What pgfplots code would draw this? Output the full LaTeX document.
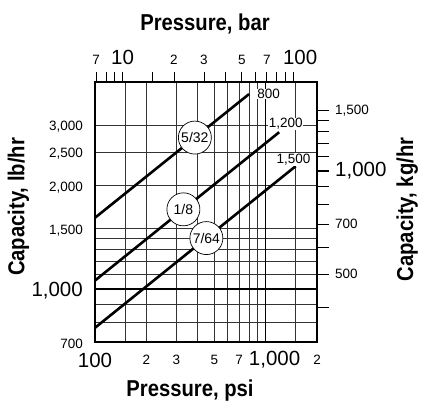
\documentclass[border=0pt]{standalone}
\usepackage{fontspec}
\setmainfont{Liberation Sans}
\usepackage{graphicx}
\usepackage{pgfplots}
\pgfplotsset{compat=1.18}
\newcommand\bignum{\fontsize{20.5}{20}\selectfont}
\newcommand\titlefont{\fontsize{23}{23}\selectfont\bfseries}
\begin{document}
\begin{tikzpicture}
% main axis: psi vs lb/hr
\begin{axis}[
  at={(0pt,0pt)}, anchor=south west,
  scale only axis, width=222pt, height=260pt,
  xmode=log, ymode=log,
  xmin=100, xmax=2000, ymin=700, ymax=4000,
  xtick={100,200,300,500,700,1000,2000},
  xticklabels={{\bignum 100},2,3,5,7,{\hspace*{18pt}\bignum 1,000},2},
  minor xtick={150,400,600,800,900,1500},
  ytick={700,1000,1500,2000,2500,3000},
  yticklabels={700,{\bignum 1,000},{1,500},{2,000},{2,500},{3,000}},
  minor ytick={800,900,1100,1200,1300,1400},
  extra x ticks={1000}, extra x tick labels={},
  extra y ticks={1000}, extra y tick labels={},
  extra tick style={major grid style={black, line width=1.7pt}},
  grid=both,
  major grid style={black!80, line width=0.7pt},
  minor grid style={black!80, line width=0.7pt},
  major tick length=0pt, minor tick length=0pt,
  axis line style={line width=1.6pt},
  tick label style={font=\fontsize{13.5}{14}\selectfont},
  /pgf/number format/assume math mode=true,
  xticklabel style={anchor=center, yshift=-18pt, inner sep=0pt},
  yticklabel style={anchor=east, xshift=-12pt, yshift=-2pt, inner sep=0pt},
  clip=false,
]
\addplot[black, line width=2.6pt] coordinates {(100,1610) (800,3690)}
  node[pos=0.648, circle, draw, line width=0.7pt, fill=white, minimum size=33pt, inner sep=0pt, font=\fontsize{14}{14}\selectfont] {5/32}
  node[pos=1, anchor=west, xshift=6.4pt, fill=white, inner sep=0.6pt, font=\fontsize{13.5}{14}\selectfont] {800};
\addplot[black, line width=2.6pt] coordinates {(100,1057) (1200,2856)}
  node[pos=0.48, circle, draw, line width=0.7pt, fill=white, minimum size=33pt, inner sep=0pt, font=\fontsize{14}{14}\selectfont] {1/8}
  node[pos=1, anchor=center, xshift=6.5pt, yshift=8.4pt, fill=white, inner sep=0.6pt, font=\fontsize{13.5}{14}\selectfont] {1,200};
\addplot[black, line width=2.6pt] coordinates {(100,770) (1500,2275)}
  node[pos=0.555, circle, draw, line width=0.7pt, fill=white, minimum size=33pt, inner sep=0pt, font=\fontsize{14}{14}\selectfont] {7/64}
  node[pos=1, anchor=center, xshift=-2.2pt, yshift=6.5pt, fill=white, inner sep=0.6pt, font=\fontsize{13.5}{14}\selectfont] {1,500};
\end{axis}
% top axis: bar
\begin{axis}[
  at={(0pt,0pt)}, anchor=south west,
  scale only axis, width=222pt, height=260pt,
  xmode=log, xmin=6.8948, xmax=137.895, ymin=0, ymax=1,
  axis x line*=top, hide y axis,
  xtick={7,10,20,30,50,70,100},
  xticklabels={7,{\bignum 10},2,3,5,7,{\hspace*{14pt}\bignum 100}},
  minor xtick={8,9,15,40,60,80,90},
  extra x ticks={10}, extra x tick labels={},
  extra tick style={major tick length=10pt, tick style={line width=1.6pt}},
  tick align=outside, major tick length=10pt, minor tick length=10pt,
  tick style={black, line width=0.8pt},
  axis line style={line width=1.6pt},
  tick label style={font=\fontsize{13.5}{14}\selectfont},
  xticklabel style={anchor=base, inner sep=0pt, yshift=7pt},
]
\end{axis}
% right axis: kg/hr
\begin{axis}[
  at={(0pt,0pt)}, anchor=south west,
  scale only axis, width=222pt, height=260pt,
  ymode=log, ymin=317.51, ymax=1814.37, xmin=0, xmax=1,
  axis y line*=right, hide x axis,
  ytick={500,700,1000,1500},
  yticklabels={500,700,{\bignum 1,000},{1,500}},
  minor ytick={400,600,800,900,1100,1200,1300,1400},
  extra y ticks={1000}, extra y tick labels={},
  extra tick style={major tick length=12pt, tick style={line width=1.6pt}},
  tick align=outside, major tick length=12pt, minor tick length=12pt,
  tick style={black, line width=0.8pt},
  axis line style={line width=1.6pt},
  tick label style={font=\fontsize{13.5}{14}\selectfont},
  yticklabel style={anchor=west, inner sep=0pt, xshift=6pt},
]
\end{axis}
\node[anchor=base] at (110pt,311pt) {\scalebox{0.88}[1]{\titlefont Pressure, bar}};
\node[anchor=base] at (95pt,-54pt) {\scalebox{0.88}[1]{\titlefont Pressure, psi}};
\node[rotate=90, anchor=base] at (-70.5pt,135pt) {\scalebox{0.88}[1]{\titlefont Capacity, lb/hr}};
\node[rotate=90, anchor=base] at (318pt,132.5pt) {\scalebox{0.88}[1]{\titlefont Capacity, kg/hr}};
\pgfresetboundingbox
\path[use as bounding box] (-95pt,-65pt) rectangle (333pt,342pt);
\end{tikzpicture}
\end{document}
